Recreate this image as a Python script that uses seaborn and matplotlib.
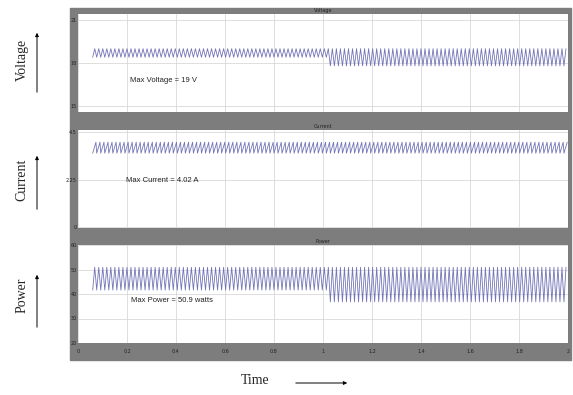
import numpy as np
import pandas as pd
import matplotlib
matplotlib.use("Agg")
import matplotlib.pyplot as plt
from matplotlib.patches import Rectangle, FancyArrowPatch
from matplotlib.ticker import FormatStrFormatter
import seaborn as sns

# values
t_start = 0.06          # ripple starts here (s)
t_switch = 1.03         # operating point changes here (s)
t_end = 2.0
n_cycles = 118          # ripple teeth counted across the window

volt_peak = [19.0, 19.0]      # before / after switch
volt_trough = [18.4, 17.8]
curr_peak = [4.02, 4.02]
curr_trough = [3.5, 3.5]
pow_peak = [50.9, 50.9]
pow_trough = [41.6, 36.8]

volt_ticks = [15, 18, 21]
curr_ticks = [0, 2.25, 4.5]
pow_ticks = [20, 30, 40, 50, 60]
x_ticks = [0, 0.2, 0.4, 0.6, 0.8, 1, 1.2, 1.4, 1.6, 1.8, 2]

titles = ["Voltage", "Current", "Power"]
notes = ["Max Voltage = 19 V", "Max Current = 4.02 A", "Max Power = 50.9 watts"]


def ripple(peak, trough, rise):
    # one peak and one trough per tooth, level taken from the segment
    period = (t_end - t_start) / n_cycles
    k = np.arange(n_cycles)
    t_lo = t_start + k * period
    t_hi = t_lo + rise * period
    t = np.column_stack([t_lo, t_hi]).ravel()
    seg = (t >= t_switch).astype(int)
    lo = np.array(trough)[seg]
    hi = np.array(peak)[seg]
    v = np.where(np.arange(len(t)) % 2 == 0, lo, hi)
    return pd.DataFrame({"t": t, "v": v})


volt = ripple(volt_peak, volt_trough, 0.5)
curr = ripple(curr_peak, curr_trough, 0.8)
power = ripple(pow_peak, pow_trough, 0.5)

sns.set_style("white")
fig = plt.figure(figsize=(5.73, 3.95), dpi=100)
fig.add_artist(Rectangle((0.1222, 0.0886), 0.8743, 0.8911,
                         transform=fig.transFigure, color="#7d7d7d", zorder=-5))

W = 573
H = 395
boxes = [(14, 112), (130, 228), (245, 343)]
data = [volt, curr, power]
yticks = [volt_ticks, curr_ticks, pow_ticks]
ylims = [(14.58, 21.42), (-0.05, 4.6), (20, 60)]
note_pos = [(130, 80), (126, 181), (131, 300)]

for i in range(3):
    top, bot = boxes[i]
    ax = fig.add_axes([78 / W, (H - bot) / H, 490 / W, (bot - top) / H])
    ax.set_facecolor("white")
    sns.lineplot(data=data[i], x="t", y="v", ax=ax, color="#7474b8",
                 linewidth=0.6)
    ax.set_xlim(0, 2)
    ax.set_ylim(*ylims[i])
    ax.set_xticks(x_ticks)
    ax.set_yticks(yticks[i])
    ax.yaxis.set_major_formatter(FormatStrFormatter("%g"))
    ax.xaxis.set_major_formatter(FormatStrFormatter("%g"))
    ax.grid(True, color="#d8d8d8", linewidth=0.6)
    ax.tick_params(direction="in", length=2, labelsize=3.5, pad=1,
                   labelcolor="#222222")
    ax.tick_params(axis="x", pad=4)
    if i < 2:
        ax.set_xticklabels([])
    ax.set_xlabel("")
    ax.set_ylabel("")
    for s in ax.spines.values():
        s.set_visible(False)
    ax.set_title(titles[i], fontsize=3.5, pad=1.5, color="#222222")
    nx, ny = note_pos[i]
    fig.text(nx / W, 1 - ny / H, notes[i], fontsize=5.5, va="center",
             family="Liberation Sans", stretch="condensed", color="#222222")

# side labels with up arrows
side = [(60, 95, 30), (180, 212, 153), (295, 330, 272)]
for i, (yc, y0, y1) in enumerate(side):
    fig.text(22 / W, 1 - yc / H, titles[i], rotation=90, va="center",
             ha="center", fontsize=10, family="Liberation Serif")
    fig.add_artist(FancyArrowPatch(
        (37 / W, 1 - y0 / H), (37 / W, 1 - y1 / H), transform=fig.transFigure,
        arrowstyle="-|>", mutation_scale=5, linewidth=0.7, color="black"))

fig.text(255 / W, 1 - 381 / H, "Time", ha="center", va="center",
         fontsize=10, family="Liberation Serif")
fig.add_artist(FancyArrowPatch(
    (293 / W, 1 - 383 / H), (350 / W, 1 - 383 / H), transform=fig.transFigure,
    arrowstyle="-|>", mutation_scale=5, linewidth=0.7, color="black"))

fig.savefig("out.png", dpi=100)
